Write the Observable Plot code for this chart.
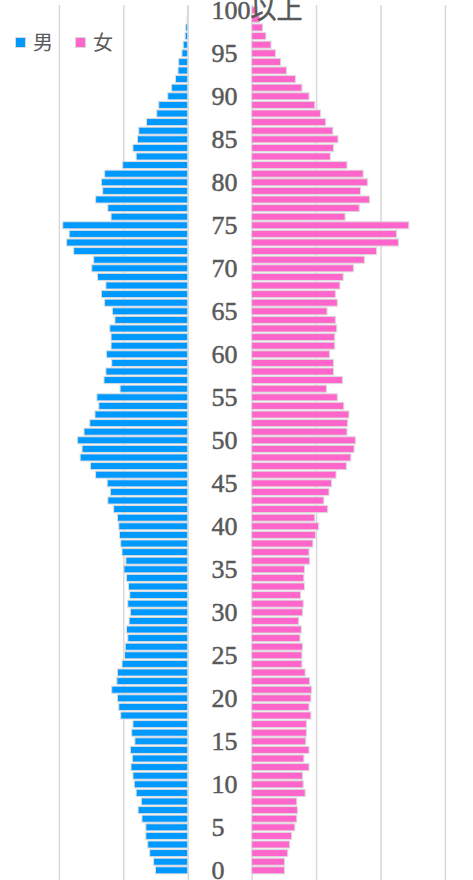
<!DOCTYPE html>
<html><head><meta charset="utf-8">
<script src="https://cdn.jsdelivr.net/npm/d3@7"></script>
<script src="https://cdn.jsdelivr.net/npm/@observablehq/plot@0.6"></script>
<style>
body{margin:0;background:#fff;}
#chart{position:relative;width:473px;height:880px;overflow:hidden;background:#fff;}
#chart svg{position:absolute;left:0;top:0;}
.sw{position:absolute;width:11px;height:11px;box-sizing:border-box;border:1px solid #d9d9d9;}
.lt{position:absolute;font-family:"Noto Sans CJK JP","Noto Sans";font-size:20px;color:#595959;line-height:20px;}
</style>
</head><body>
<div id="chart"></div>
<script>
// ages 0..100 (100 = 100以上)
const ages = d3.range(0, 101);
const male = [0.50,0.53,0.59,0.62,0.65,0.65,0.71,0.77,0.72,0.80,
  0.83,0.85,0.88,0.86,0.89,0.82,0.87,0.85,1.04,1.07,
  1.09,1.18,1.10,1.09,1.02,0.98,0.97,0.93,0.95,0.91,
  0.89,0.93,0.90,0.92,0.95,0.99,0.96,1.02,1.04,1.06,
  1.07,1.09,1.15,1.24,1.20,1.25,1.43,1.51,1.67,1.64,
  1.71,1.61,1.52,1.44,1.38,1.41,1.05,1.30,1.27,1.18,
  1.26,1.19,1.19,1.21,1.13,1.17,1.29,1.34,1.27,1.40,
  1.49,1.46,1.77,1.88,1.84,1.94,1.19,1.24,1.43,1.32,
  1.34,1.29,1.01,0.80,0.85,0.78,0.76,0.64,0.48,0.45,
  0.31,0.25,0.19,0.15,0.14,0.09,0.07,0.04,0.03,0.01,
  0.005];
const female = [0.51,0.51,0.56,0.59,0.62,0.67,0.70,0.71,0.70,0.83,
  0.80,0.79,0.89,0.81,0.89,0.84,0.85,0.85,0.92,0.89,
  0.92,0.93,0.90,0.83,0.78,0.78,0.79,0.75,0.77,0.73,
  0.79,0.80,0.76,0.82,0.81,0.82,0.90,0.89,0.95,0.99,
  1.04,0.98,1.18,1.12,1.20,1.24,1.31,1.47,1.54,1.59,
  1.61,1.48,1.49,1.51,1.43,1.33,1.16,1.41,1.27,1.27,
  1.21,1.29,1.29,1.32,1.30,1.17,1.33,1.30,1.37,1.42,
  1.58,1.75,1.94,2.28,2.25,2.44,1.45,1.67,1.83,1.69,
  1.80,1.73,1.48,1.22,1.27,1.34,1.26,1.15,1.07,0.98,
  0.89,0.78,0.68,0.54,0.45,0.37,0.30,0.22,0.17,0.12,
  0.08];
const tickAges = [0,5,10,15,20,25,30,35,40,45,50,55,60,65,70,75,80,85,90,95,100];
const tickLabels = ["0","5","10","15","20","25","30","35","40","45","50","55","60","65","70","75","80","85","90","95","100以上"];
const gridTicks = [0,1,2,3];
const seriesNames = ["男","女"];
const seriesColors = ["#0099FF","#FF66CC"];

const rows = ages.map((a,i)=>({age:a, male:male[i], female:female[i]}));
const labelRows = tickAges.map((a,i)=>({age:a, label:tickLabels[i]}));

const W = 473, H = 880, unit = 64.4, axisL = 187.7, axisR = 251.7;
const yOpt = {domain: ages.slice().reverse(), range:[6, 874.6], paddingInner:0.18, paddingOuter:0.09, axis:null};
const common = {width:W, height:H, margin:0, marginTop:5, style:{background:"transparent", overflow:"visible"}};

const left = Plot.plot({...common,
  x:{domain:[0,3], range:[axisL, axisL-3*unit], axis:null},
  y:yOpt,
  marks:[
    Plot.ruleX(gridTicks, {stroke:"#d9d9d9", strokeWidth:1.5}),
    Plot.barX(rows, {x:"male", y:"age", fill:seriesColors[0], stroke:"#dcdcdc", strokeWidth:1})
  ]});

const right = Plot.plot({...common,
  x:{domain:[0,3], range:[axisR, axisR+3*unit], axis:null},
  y:yOpt,
  marks:[
    Plot.ruleX(gridTicks, {stroke:"#d9d9d9", strokeWidth:1.5}),
    Plot.barX(rows, {x:"female", y:"age", fill:seriesColors[1], stroke:"#dcdcdc", strokeWidth:1}),
    Plot.text(labelRows, {y:"age", text:"label", frameAnchor:"left", dx:211, textAnchor:"start",
      fill:"#595959", stroke:"#595959", strokeWidth:0.5, fontSize:26,
      fontFamily:'"Liberation Serif","Noto Sans CJK JP",serif'})
  ]});

const chart = document.getElementById("chart");
chart.appendChild(left);
chart.appendChild(right);

// legend
const legendPos = [{sx:15, tx:33},{sx:75, tx:93}];
seriesNames.forEach((n,i)=>{
  const s = document.createElement("div");
  s.className = "sw"; s.style.left = legendPos[i].sx+"px"; s.style.top = "37px"; s.style.background = seriesColors[i];
  const t = document.createElement("div");
  t.className = "lt"; t.style.left = legendPos[i].tx+"px"; t.style.top = "32px"; t.textContent = n;
  chart.appendChild(s); chart.appendChild(t);
});
</script>
</body></html>
